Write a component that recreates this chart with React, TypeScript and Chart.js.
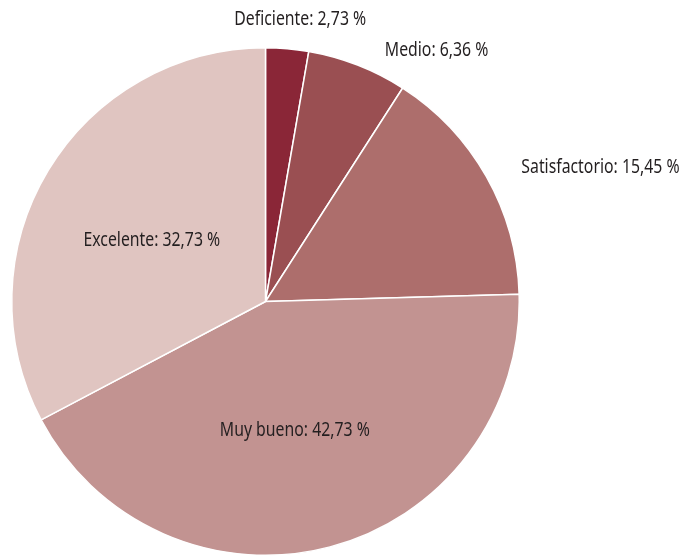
import React, { useEffect, useRef } from "react";
import { Chart, registerables } from "chart.js";

Chart.register(...registerables);

const categories = ["Deficiente", "Medio", "Satisfactorio", "Muy bueno", "Excelente"];
const values = [2.73, 6.36, 15.45, 42.73, 32.73];
const colors = ["#8A2637", "#9A4F52", "#AD6E6C", "#C29391", "#E0C5C1"];
// label placement: inside (at half radius) or outside (at arc edge), plus a pixel nudge
const labelInside = [false, false, false, true, true];
const labelOffsets: [number, number][] = [[13, -29], [79, -15], [114, -9], [-3, 6], [-5, 4]];

const FONT = '20px "Noto Sans", "Open Sans", sans-serif';
const SQUEEZE = 0.79;

const fmt = (v: number) => v.toFixed(2).replace(".", ",") + " %";

const labelPlugin = {
  id: "sliceLabels",
  afterDatasetsDraw(chart: any) {
    const ctx = chart.ctx;
    const meta = chart.getDatasetMeta(0);
    meta.data.forEach((arc: any, i: number) => {
      const { x, y, startAngle, endAngle, outerRadius } = arc.getProps(
        ["x", "y", "startAngle", "endAngle", "outerRadius"],
        true
      );
      const mid = (startAngle + endAngle) / 2;
      const r = labelInside[i] ? outerRadius * 0.5 : outerRadius;
      const px = x + Math.cos(mid) * r + labelOffsets[i][0];
      const py = y + Math.sin(mid) * r + labelOffsets[i][1];
      ctx.save();
      ctx.font = FONT;
      ctx.fillStyle = "#231F20";
      ctx.textAlign = "center";
      ctx.textBaseline = "middle";
      ctx.translate(px, py);
      ctx.scale(SQUEEZE, 1);
      ctx.fillText(`${categories[i]}: ${fmt(values[i])}`, 0, 0);
      ctx.restore();
    });
  },
};

export default function App() {
  const ref = useRef<HTMLCanvasElement>(null);
  useEffect(() => {
    if (!ref.current) return;
    const chart = new Chart(ref.current, {
      type: "pie",
      data: {
        labels: categories,
        datasets: [
          {
            data: values,
            backgroundColor: colors,
            borderColor: "#ffffff",
            borderWidth: 1.5,
          },
        ],
      },
      options: {
        animation: false,
        responsive: false,
        layout: { padding: { left: 10, right: 165, top: 47, bottom: -2 } },
        plugins: { legend: { display: false }, tooltip: { enabled: false } },
      },
      plugins: [labelPlugin],
    });
    return () => chart.destroy();
  }, []);
  return (
    <div style={{ position: "fixed", left: 0, top: 0, width: 686, height: 556, background: "#fff" }}>
      <canvas ref={ref} width={686} height={556} style={{ width: 686, height: 556 }} />
    </div>
  );
}
